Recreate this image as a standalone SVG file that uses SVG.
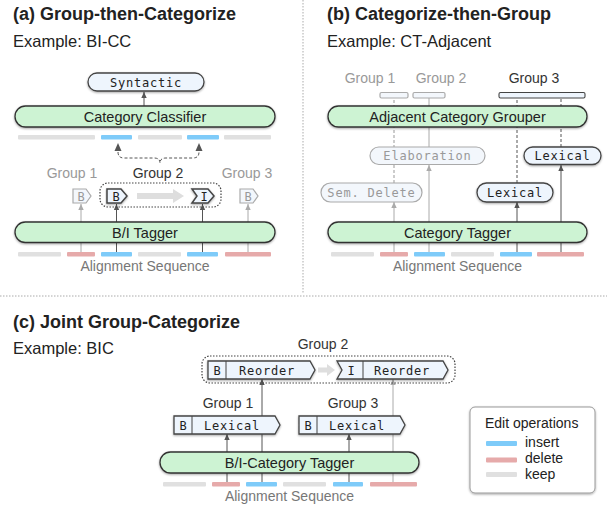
<svg xmlns="http://www.w3.org/2000/svg" width="607" height="506" viewBox="0 0 607 506">
<defs>
<style>
text{font-family:"Liberation Sans",Arial,sans-serif;}
.title{font-size:18px;font-weight:bold;fill:#222;}
.ex{font-size:16.5px;fill:#222;}
.lab{font-size:14px;fill:#333;}
.labg{font-size:14px;fill:#999;}
.mod{fill:#cdf3d3;stroke:#333;stroke-width:1.3;}
.modt{font-size:14.5px;fill:#222;text-anchor:middle;}
.seq{font-size:14px;fill:#777;text-anchor:middle;}
.bi{fill:#7ecbf9;}
.bd{fill:#e6aaaa;}
.bk{fill:#e0e0e0;}
.box{fill:#eef5fd;stroke:#444;stroke-width:1.3;}
.boxg{fill:#f3f7fc;stroke:#aaa;stroke-width:1.2;}
.mono{font-family:"DejaVu Sans Mono","Liberation Mono",monospace;font-size:12px;letter-spacing:0.8px;fill:#222;}
.monog{font-family:"DejaVu Sans Mono","Liberation Mono",monospace;font-size:12px;letter-spacing:0.8px;fill:#999;}
.ld{stroke:#555;stroke-width:1;fill:none;}
.lg{stroke:#aaa;stroke-width:1;fill:none;}
.dd{stroke:#555;stroke-width:1;stroke-dasharray:3 2;fill:none;}
.dg{stroke:#999;stroke-width:1;stroke-dasharray:3 2;fill:none;}
.dot{fill:none;stroke:#444;stroke-width:1.2;stroke-dasharray:1.5 1.5;}
.div{stroke:#aaa;stroke-width:1;stroke-dasharray:1.5 1.5;fill:none;}
.garrow{fill:#dedede;}
</style>
<marker id="ad" viewBox="0 0 6 6" refX="6" refY="3" markerWidth="6" markerHeight="6" markerUnits="userSpaceOnUse" orient="auto"><path d="M0,0.3 L6,3 L0,5.7z" fill="#555"/></marker>
<marker id="ag" viewBox="0 0 6 6" refX="6" refY="3" markerWidth="6" markerHeight="6" markerUnits="userSpaceOnUse" orient="auto"><path d="M0,0.3 L6,3 L0,5.7z" fill="#aaa"/></marker>
<filter id="sh" x="-10%" y="-20%" width="120%" height="150%"><feDropShadow dx="0" dy="1" stdDeviation="0.8" flood-color="#000" flood-opacity="0.35"/></filter>
</defs>

<!-- dividers -->
<line class="div" x1="303" y1="0" x2="303" y2="293"/>
<line class="div" x1="0" y1="296" x2="607" y2="296"/>

<!-- ===== (a) ===== -->
<text class="title" x="13" y="20">(a) Group-then-Categorize</text>
<text class="ex" x="13" y="47">Example: BI-CC</text>

<g id="connectors-a">
<line class="ld" x1="144" y1="106" x2="144" y2="92" marker-end="url(#ad)"/>
<path d="M118,152 Q118,158 124,158 L154,158 Q160,158 160,163 Q160,158 166,158 L193,158 Q199,158 199,152" class="dd"/>
<path d="M114.5,151 L118,143 L121.5,151z" fill="#555"/>
<path d="M195.5,151 L199,143 L202.5,151z" fill="#555"/>
<line class="lg" x1="81" y1="252" x2="81" y2="204" marker-end="url(#ag)"/>
<line class="ld" x1="116.5" y1="252" x2="116.5" y2="204" marker-end="url(#ad)"/>
<line class="ld" x1="202.5" y1="252" x2="202.5" y2="204" marker-end="url(#ad)"/>
<line class="lg" x1="248" y1="252" x2="248" y2="204" marker-end="url(#ag)"/>
<path class="garrow" d="M137,193 L173,193 L173,189 L184,196 L173,203 L173,199 L137,199z"/>
</g>

<g id="syntactic"><rect class="box" x="88" y="73" width="116" height="18" rx="9" filter="url(#sh)"/><text class="mono" x="146" y="86.5" text-anchor="middle">Syntactic</text></g>
<g id="category-classifier"><rect class="mod" x="15" y="106" width="260" height="21" rx="10.5" filter="url(#sh)"/><text class="modt" x="145" y="122">Category Classifier</text></g>
<g id="bars-a-top">
<rect class="bk" x="18" y="135" width="77" height="4.5" rx="1"/>
<rect class="bi" x="101" y="135" width="31" height="4.5" rx="1"/>
<rect class="bk" x="138" y="135" width="44" height="4.5" rx="1"/>
<rect class="bi" x="187" y="135" width="32" height="4.5" rx="1"/>
<rect class="bk" x="224" y="135" width="47" height="4.5" rx="1"/>
</g>
<g id="groups-a">
<text class="labg" x="72" y="178" text-anchor="middle">Group 1</text>
<text class="lab" x="158" y="178" text-anchor="middle">Group 2</text>
<text class="labg" x="247" y="178" text-anchor="middle">Group 3</text>
<rect class="dot" x="100" y="183" width="121" height="24" rx="8"/>
</g>
<g id="tag-a-b1"><path class="boxg" d="M73,189 L86,189 L91,196 L86,203 L73,203z"/><text class="monog" x="81" y="200.5" text-anchor="middle" style="letter-spacing:0">B</text></g>
<g id="tag-a-b2"><path class="box" d="M107,189 L121,189 L127,196 L121,203 L107,203z" filter="url(#sh)" style="stroke-width:1.5"/><text class="mono" x="116" y="200.5" text-anchor="middle" style="letter-spacing:0">B</text></g>
<g id="tag-a-i2"><path class="box" d="M192,189 L208,189 L214,196 L208,203 L192,203 L197,196z" filter="url(#sh)" style="stroke-width:1.5"/><text class="mono" x="204" y="200.5" text-anchor="middle" style="letter-spacing:0">I</text></g>
<g id="tag-a-b3"><path class="boxg" d="M240,189 L253,189 L258,196 L253,203 L240,203z"/><text class="monog" x="248" y="200.5" text-anchor="middle" style="letter-spacing:0">B</text></g>
<g id="bi-tagger"><rect class="mod" x="15" y="222" width="260" height="20.5" rx="10.25" filter="url(#sh)"/><text class="modt" x="145" y="237.5">B/I Tagger</text></g>
<g id="bars-a">
<rect class="bk" x="18" y="252" width="43" height="4.5" rx="1"/>
<rect class="bd" x="67" y="252" width="28" height="4.5" rx="1"/>
<rect class="bi" x="101" y="252" width="31" height="4.5" rx="1"/>
<rect class="bk" x="138" y="252" width="43" height="4.5" rx="1"/>
<rect class="bi" x="187" y="252" width="31" height="4.5" rx="1"/>
<rect class="bd" x="225" y="252" width="46" height="4.5" rx="1"/>
<text class="seq" x="145" y="271">Alignment Sequence</text>
</g>

<!-- ===== (b) ===== -->
<text class="title" x="327" y="20">(b) Categorize-then-Group</text>
<text class="ex" x="327" y="47">Example: CT-Adjacent</text>

<g id="connectors-b">
<line class="dg" x1="394" y1="183" x2="394" y2="98"/>
<line class="lg" x1="429" y1="147" x2="429" y2="98"/>
<line class="dd" x1="517" y1="183" x2="517" y2="98"/>
<line class="dd" x1="561" y1="147" x2="561" y2="98"/>
<line class="lg" x1="394" y1="252" x2="394" y2="202" marker-end="url(#ag)"/>
<line class="lg" x1="429" y1="252" x2="429" y2="165" marker-end="url(#ag)"/>
<line class="ld" x1="517" y1="252" x2="517" y2="202" marker-end="url(#ad)"/>
<line class="ld" x1="561" y1="252" x2="561" y2="165" marker-end="url(#ad)"/>
</g>
<g id="groups-b">
<text class="labg" x="370" y="83" text-anchor="middle">Group 1</text>
<text class="labg" x="441" y="83" text-anchor="middle">Group 2</text>
<text class="lab" x="534" y="83" text-anchor="middle">Group 3</text>
<rect class="boxg" x="380" y="92.5" width="28" height="5.5" rx="1.5"/>
<rect class="boxg" x="413" y="92.5" width="32" height="5.5" rx="1.5"/>
<rect class="box" x="499" y="92.5" width="86" height="5.5" rx="1.5" style="stroke-width:1.1"/>
</g>
<g id="adjacent-grouper"><rect class="mod" x="328" y="106" width="259" height="21" rx="10.5" filter="url(#sh)"/><text class="modt" x="457.5" y="122">Adjacent Category Grouper</text></g>
<g id="elaboration"><rect class="boxg" x="370" y="147" width="115" height="17.5" rx="8.75"/><text class="monog" x="427.5" y="160" text-anchor="middle">Elaboration</text></g>
<g id="lexical-upper"><rect class="box" x="524" y="147" width="77" height="17.5" rx="8.75" filter="url(#sh)"/><text class="mono" x="562.5" y="160" text-anchor="middle">Lexical</text></g>
<g id="sem-delete"><rect class="boxg" x="321" y="183" width="101" height="19" rx="9.5"/><text class="monog" x="371.5" y="197" text-anchor="middle">Sem. Delete</text></g>
<g id="lexical-lower"><rect class="box" x="477" y="183" width="76" height="19" rx="9.5" filter="url(#sh)"/><text class="mono" x="515" y="197" text-anchor="middle">Lexical</text></g>
<g id="category-tagger"><rect class="mod" x="328" y="222" width="259" height="20.5" rx="10.25" filter="url(#sh)"/><text class="modt" x="457.5" y="237.5">Category Tagger</text></g>
<g id="bars-b">
<rect class="bk" x="331" y="252" width="43" height="4.5" rx="1"/>
<rect class="bd" x="380" y="252" width="28" height="4.5" rx="1"/>
<rect class="bi" x="414" y="252" width="31" height="4.5" rx="1"/>
<rect class="bk" x="451" y="252" width="43" height="4.5" rx="1"/>
<rect class="bi" x="500" y="252" width="32" height="4.5" rx="1"/>
<rect class="bd" x="537" y="252" width="47" height="4.5" rx="1"/>
<text class="seq" x="457.5" y="271">Alignment Sequence</text>
</g>

<!-- ===== (c) ===== -->
<text class="title" x="13" y="328">(c) Joint Group-Categorize</text>
<text class="ex" x="13" y="354">Example: BIC</text>

<g id="connectors-c">
<line class="ld" x1="227" y1="482" x2="227" y2="434" marker-end="url(#ad)"/>
<line class="ld" x1="262" y1="482" x2="262" y2="379" marker-end="url(#ad)"/>
<line class="ld" x1="349" y1="482" x2="349" y2="434" marker-end="url(#ad)"/>
<line class="lg" x1="393" y1="482" x2="393" y2="379" marker-end="url(#ag)"/>
<path class="garrow" d="M318,367.5 L327,367.5 L327,364 L335,370 L327,376 L327,372.5 L318,372.5z"/>
</g>
<g id="group2-c">
<text class="lab" x="323" y="349" text-anchor="middle">Group 2</text>
<rect class="dot" x="202" y="356" width="253" height="27" rx="8"/>
</g>
<g id="tag-c-b-reorder"><path class="box" d="M208,361 L310,361 L315,370 L310,379 L208,379z" filter="url(#sh)"/><line x1="226" y1="361" x2="226" y2="379" stroke="#444" stroke-width="1"/><text class="mono" x="217" y="374.5" text-anchor="middle" style="letter-spacing:0">B</text><text class="mono" x="267" y="374.5" text-anchor="middle">Reorder</text></g>
<g id="tag-c-i-reorder"><path class="box" d="M337,361 L443,361 L448,370 L443,379 L337,379 L342,370z" filter="url(#sh)"/><line x1="363" y1="361" x2="363" y2="379" stroke="#444" stroke-width="1"/><text class="mono" x="351" y="374.5" text-anchor="middle" style="letter-spacing:0">I</text><text class="mono" x="402" y="374.5" text-anchor="middle">Reorder</text></g>
<text class="lab" x="228" y="408" text-anchor="middle">Group 1</text>
<text class="lab" x="353" y="408" text-anchor="middle">Group 3</text>
<g id="tag-c-lexical1"><path class="box" d="M174,416 L275,416 L280,425 L275,434 L174,434z" filter="url(#sh)"/><line x1="192" y1="416" x2="192" y2="434" stroke="#444" stroke-width="1"/><text class="mono" x="183" y="429.5" text-anchor="middle" style="letter-spacing:0">B</text><text class="mono" x="232" y="429.5" text-anchor="middle">Lexical</text></g>
<g id="tag-c-lexical3"><path class="box" d="M299,416 L400,416 L405,425 L400,434 L299,434z" filter="url(#sh)"/><line x1="317" y1="416" x2="317" y2="434" stroke="#444" stroke-width="1"/><text class="mono" x="308" y="429.5" text-anchor="middle" style="letter-spacing:0">B</text><text class="mono" x="357" y="429.5" text-anchor="middle">Lexical</text></g>
<g id="bic-tagger"><rect class="mod" x="160" y="452" width="259" height="21" rx="10.5" filter="url(#sh)"/><text class="modt" x="289.5" y="468">B/I-Category Tagger</text></g>
<g id="bars-c">
<rect class="bk" x="163" y="482" width="43" height="4.5" rx="1"/>
<rect class="bd" x="212" y="482" width="28" height="4.5" rx="1"/>
<rect class="bi" x="246" y="482" width="31" height="4.5" rx="1"/>
<rect class="bk" x="283" y="482" width="43" height="4.5" rx="1"/>
<rect class="bi" x="333" y="482" width="30" height="4.5" rx="1"/>
<rect class="bd" x="370" y="482" width="47" height="4.5" rx="1"/>
<text class="seq" x="289.5" y="501">Alignment Sequence</text>
</g>

<g id="legend">
<rect x="470" y="407" width="125" height="86" rx="5" fill="#fff" stroke="#999" stroke-width="1" filter="url(#sh)"/>
<text class="lab" x="485" y="428" style="fill:#222">Edit operations</text>
<rect class="bi" x="486" y="441" width="31" height="5" rx="1"/>
<text class="lab" x="525" y="447" style="fill:#222">insert</text>
<rect class="bd" x="486" y="457.5" width="31" height="5" rx="1"/>
<text class="lab" x="525" y="463" style="fill:#222">delete</text>
<rect class="bk" x="486" y="472" width="31" height="5" rx="1"/>
<text class="lab" x="525" y="479" style="fill:#222">keep</text>
</g>
</svg>
